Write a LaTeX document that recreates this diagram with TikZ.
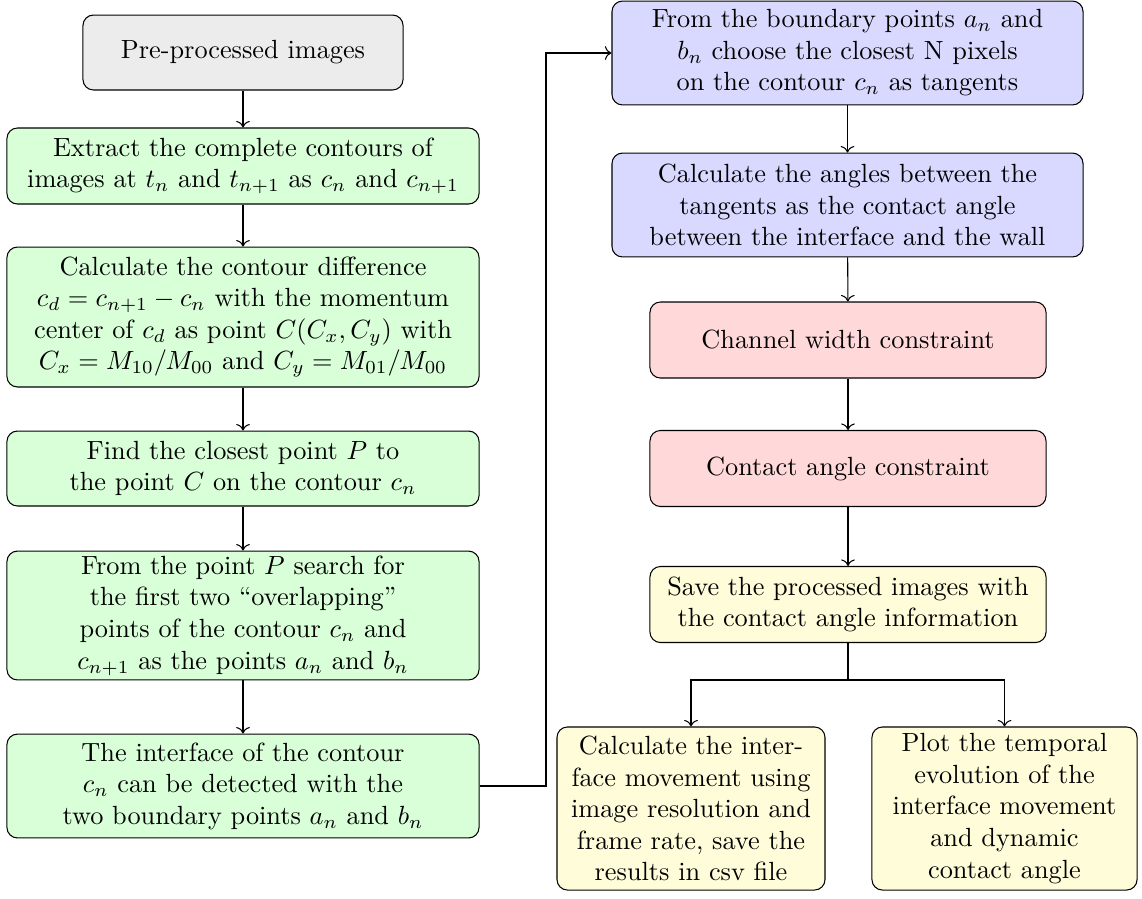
\documentclass[tikz,border=0pt]{standalone}
\usetikzlibrary{arrows.meta}
\begin{document}
\begin{tikzpicture}[x=0.3802pt,y=-0.3802pt,
  box/.style={draw, rounded corners=4pt, align=center, inner sep=0pt},
  graybox/.style={box, fill=gray!15},
  greenbox/.style={box, fill=green!15, minimum width=179.5pt},
  bluebox/.style={box, fill=blue!15, minimum width=179.1pt, minimum height=39.5pt},
  redbox/.style={box, fill=red!15, minimum width=150.6pt, minimum height=28.9pt},
  yellowbox/.style={box, fill=yellow!15},
  conn/.style={->}]
\useasboundingbox (0,0) rectangle (1142,898);
% left column
\node[graybox, minimum width=121.7pt, minimum height=28.5pt] (pre) at (243,52.5) {Pre-processed images};
\node[greenbox, minimum height=28.9pt] (extract) at (243,166) {Extract the complete contours of\\ images at $t_n$ and $t_{n+1}$ as $c_n$ and $c_{n+1}$};
\node[greenbox, minimum height=53.2pt] (calc) at (243,317) {Calculate the contour difference\\ $c_d=c_{n+1}-c_n$ with the momentum\\ center of $c_d$ as point $C(C_x,C_y)$ with\\ $C_x=M_{10}/M_{00}$ and $C_y=M_{01}/M_{00}$};
\node[greenbox, minimum height=28.5pt] (find) at (243,468.5) {Find the closest point $P$ to\\ the point $C$ on the contour $c_n$};
\node[greenbox, minimum height=49pt] (fromp) at (243,615.5) {From the point $P$ search for\\ the first two ``overlapping''\\ points of the contour $c_n$ and\\ $c_{n+1}$ as the points $a_n$ and $b_n$};
\node[greenbox, minimum height=39.5pt] (iface) at (243,786) {The interface of the contour\\ $c_n$ can be detected with the\\ two boundary points $a_n$ and $b_n$};
% right column
\node[bluebox] (tang) at (847.5,53) {From the boundary points $a_n$ and\\ $b_n$ choose the closest N pixels\\ on the contour $c_n$ as tangents};
\node[bluebox] (angles) at (847.5,205) {Calculate the angles between the\\ tangents as the contact angle\\ between the interface and the wall};
\node[redbox] (channel) at (848,340) {Channel width constraint};
\node[redbox] (contact) at (848,468.5) {Contact angle constraint};
\node[yellowbox, minimum width=150.6pt, minimum height=28.9pt] (save) at (848,604.5) {Save the processed images with\\ the contact angle information};
\node[yellowbox, minimum width=101.9pt, minimum height=62pt] (res) at (691,808.5) {Calculate the inter-\\face movement using\\ image resolution and\\ frame rate, save the\\ results in csv file};
\node[yellowbox, minimum width=100.8pt, minimum height=62pt] (plot) at (1004.5,808.5) {Plot the temporal\\ evolution of the\\ interface movement\\ and dynamic\\ contact angle};
\coordinate (bend) at (546,786);
\coordinate (split) at (848,680);
% connectors
\draw[conn] (pre) -- (extract);
\draw[conn] (extract) -- (calc);
\draw[conn] (calc) -- (find);
\draw[conn] (find) -- (fromp);
\draw[conn] (fromp) -- (iface);
\draw[conn] (iface.east) -- (bend) |- (tang.west);
\draw[conn] (tang) -- (angles);
\draw[conn] (angles) -- (channel);
\draw[conn] (channel) -- (contact);
\draw[conn] (contact) -- (save);
\draw (save.south) -- (split);
\draw[conn] (split) -| (res.north);
\draw[conn] (split) -| (plot.north);
\end{tikzpicture}
\end{document}
